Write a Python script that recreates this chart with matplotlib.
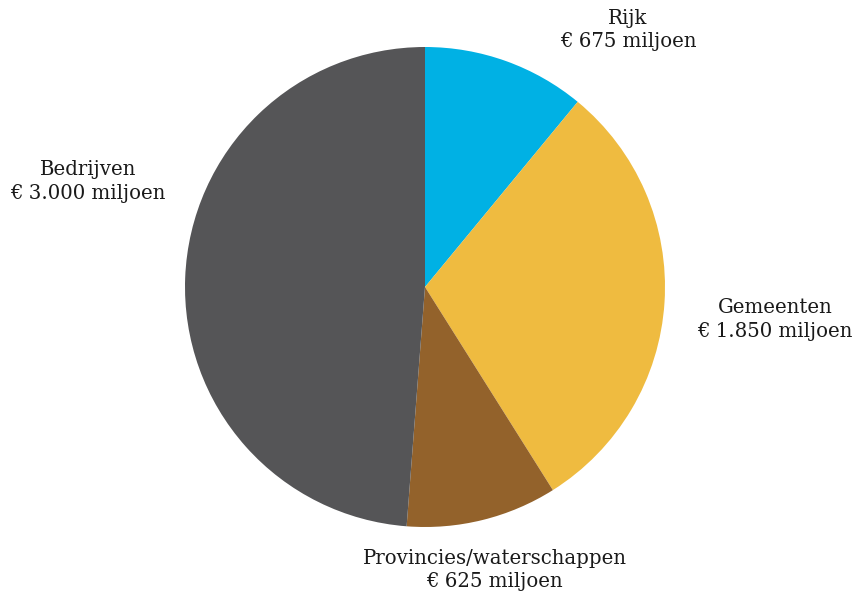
import matplotlib
matplotlib.use("Agg")
import matplotlib.pyplot as plt

categories = ["Rijk", "Gemeenten", "Provincies/waterschappen", "Bedrijven"]
values = [675, 1850, 625, 3000]
value_labels = ["€ 675 miljoen", "€ 1.850 miljoen", "€ 625 miljoen", "€ 3.000 miljoen"]
colors = ["#00b1e4", "#efbb40", "#93622b", "#555557"]

W, H = 858, 601
fig = plt.figure(figsize=(W / 100, H / 100), dpi=100)
cx, cy, r = 425, 287, 240
ax = fig.add_axes([(cx - r) / W, (H - cy - r) / H, 2 * r / W, 2 * r / H])
ax.pie(values, colors=colors, startangle=90, counterclock=False, radius=1,
       wedgeprops=dict(linewidth=0))
ax.set_xlim(-1, 1)
ax.set_ylim(-1, 1)
ax.set_aspect("equal")
ax.axis("off")

# label anchor points (data units, pie radius = 1)
label_pos = [(0.846, 1.07), (1.458, -0.135), (0.29, -1.18), (-1.405, 0.44)]
for cat, vl, (x, y) in zip(categories, value_labels, label_pos):
    ax.text(x, y, f"{cat}\n{vl}", ha="center", va="center", fontsize=14.2,
            family="DejaVu Serif", color="#1a1a1a", linespacing=1.3, clip_on=False)

fig.savefig("out.png", dpi=100, facecolor="white")
